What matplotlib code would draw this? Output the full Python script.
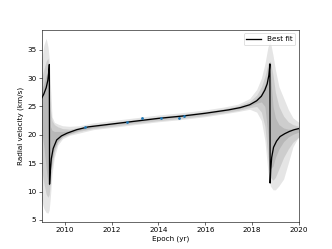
import numpy as np
import matplotlib
matplotlib.use('Agg')
import matplotlib.pyplot as plt

# Observed radial velocities
obs_t = [2010.86, 2012.65, 2013.30, 2014.10, 2014.89, 2015.10]
obs_v = [21.4, 22.2, 23.0, 23.0, 23.0, 23.3]

# Best fit orbit
fit_t = [2009.00, 2009.10, 2009.20, 2009.27, 2009.31, 2009.335, 2009.345, 2009.37,
         2009.42, 2009.50, 2009.65, 2009.85, 2010.10, 2010.50, 2011.00, 2012.00,
         2013.00, 2014.00, 2015.00, 2016.00, 2017.00, 2017.50, 2017.90, 2018.20,
         2018.40, 2018.55, 2018.65, 2018.72, 2018.765, 2018.775, 2018.80, 2018.84,
         2018.92, 2019.05, 2019.20, 2019.40, 2019.60, 2019.80, 2020.00]
fit_v = [26.4, 27.2, 28.3, 29.6, 31.0, 32.4, 11.3, 13.3,
         15.8, 17.6, 19.1, 19.8, 20.3, 20.9, 21.4, 21.9,
         22.4, 22.9, 23.3, 23.8, 24.4, 24.8, 25.3, 26.0,
         26.8, 27.9, 29.0, 30.5, 32.5, 11.5, 13.8, 16.0,
         17.8, 18.9, 19.7, 20.2, 20.6, 20.9, 21.1]

# Posterior envelopes (1, 2, 3 sigma)
band_t = [2009.00, 2009.10, 2009.20, 2009.28, 2009.33, 2009.38, 2009.45, 2009.55,
          2009.70, 2009.90, 2010.20, 2010.60, 2011.20, 2012.0, 2013.0, 2014.0,
          2015.0, 2016.0, 2016.8, 2017.4, 2017.9, 2018.2, 2018.4, 2018.55,
          2018.68, 2018.78, 2018.90, 2019.00, 2019.15, 2019.35, 2019.55, 2019.75,
          2020.00]
hi3 = [33.0, 35.8, 37.0, 35.5, 33.5, 29.0, 23.2, 22.2,
       21.9, 21.6, 21.5, 21.6, 22.1, 22.5, 23.0, 23.5,
       23.9, 24.4, 24.9, 25.4, 26.4, 28.0, 30.0, 32.5,
       35.5, 36.5, 34.0, 31.5, 28.5, 26.5, 24.5, 23.0,
       22.2]
lo3 = [8.5, 7.0, 6.3, 6.2, 6.8, 9.0, 13.0, 16.0,
       18.2, 19.3, 19.9, 20.3, 20.9, 21.3, 21.8, 22.3,
       22.7, 23.2, 23.7, 24.1, 24.5, 24.0, 22.5, 19.0,
       13.5, 11.0, 10.3, 10.3, 11.0, 12.2, 15.0, 17.9,
       19.7]
hi2 = [30.0, 31.5, 33.0, 33.5, 31.0, 24.5, 22.5, 21.8,
       21.4, 21.1, 21.0, 21.3, 21.8, 22.2, 22.7, 23.2,
       23.6, 24.1, 24.6, 25.1, 25.9, 27.0, 28.5, 30.3,
       32.5, 33.0, 30.5, 27.5, 25.0, 23.3, 22.3, 21.8,
       21.5]
lo2 = [14.0, 11.5, 9.5, 9.0, 9.5, 11.5, 14.5, 17.0,
       18.7, 19.6, 20.1, 20.6, 21.1, 21.5, 22.0, 22.5,
       22.9, 23.4, 23.9, 24.3, 24.8, 25.0, 24.0, 21.5,
       16.0, 12.5, 12.0, 12.5, 14.0, 16.0, 17.5, 18.7,
       19.6]
hi1 = [28.0, 29.0, 30.5, 31.5, 28.0, 21.5, 20.8, 20.6,
       20.6, 20.6, 20.7, 21.1, 21.6, 22.0, 22.5, 23.0,
       23.4, 23.9, 24.4, 24.8, 25.5, 26.4, 27.4, 28.8,
       30.5, 31.0, 25.0, 23.0, 21.8, 21.2, 21.0, 21.0,
       21.2]
lo1 = [21.0, 18.0, 14.0, 11.5, 11.0, 13.0, 15.5, 17.5,
       18.9, 19.7, 20.2, 20.8, 21.3, 21.8, 22.3, 22.8,
       23.2, 23.7, 24.2, 24.6, 25.1, 25.6, 25.8, 25.0,
       20.0, 14.0, 14.5, 16.0, 17.5, 18.8, 19.6, 20.1,
       20.5]

fig, ax = plt.subplots(figsize=(6.4, 4.8))

for lo, hi in [(lo3, hi3), (lo2, hi2), (lo1, hi1)]:
    ax.fill_between(band_t, lo, hi, color='k', alpha=0.1, lw=0)

ax.plot(fit_t, fit_v, color='k', lw=1.8, label='Best fit')
ax.plot(obs_t, obs_v, '.', color='#1f77b4', markersize=5.5)

ax.set_xlim(2009, 2020)
ax.set_ylim(4.7, 38.5)
ax.set_xticks([2010, 2012, 2014, 2016, 2018, 2020])
ax.set_yticks([5, 10, 15, 20, 25, 30, 35])
ax.set_xlabel('Epoch (yr)')
ax.set_ylabel('Radial velocity (km/s)')
ax.legend(loc='upper right')

fig.savefig('out.png', dpi=51.875)
